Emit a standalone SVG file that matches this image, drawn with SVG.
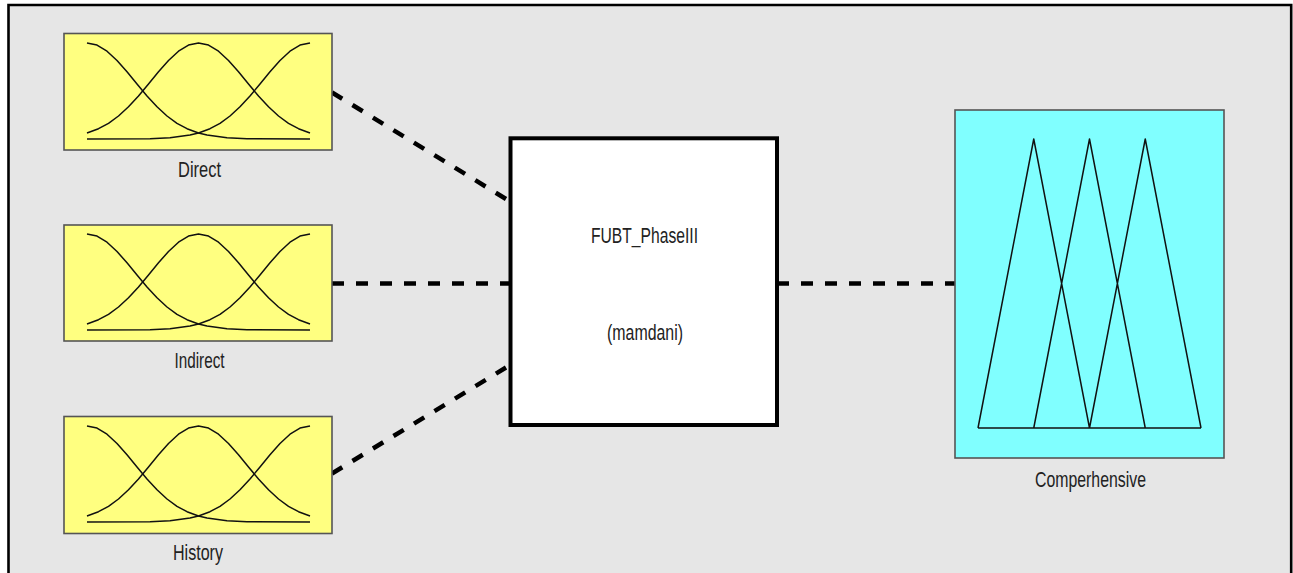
<svg xmlns="http://www.w3.org/2000/svg" xmlns:xlink="http://www.w3.org/1999/xlink" width="1293" height="573" viewBox="0 0 1293 573">
<style>
.in{fill:#ffff80;stroke:#555;stroke-width:1.6}
.out{fill:#80ffff;stroke:#555;stroke-width:1.6}
.mf{fill:none;stroke:#111;stroke-width:1.5;stroke-linejoin:round}
.lbl{font-family:"Liberation Sans",Arial,sans-serif;font-size:22.5px;fill:#222}
.conn{stroke:#000;stroke-width:4.5;stroke-dasharray:12 12;fill:none}
</style>
<defs>
<g id="gauss">
<path class="mf" d="M23,9 L33,11.1 L43,17.2 L53,26.5 L63,37.8 L73,50 L83,62 L93,72.8 L103,82 L113,89.3 L123,94.7 L134.5,99 L143,101.1 L163,103.8 L183,104.7 L246,105"/>
<path class="mf" d="M246,9 L236,11.1 L226,17.2 L216,26.5 L206,37.8 L196,50 L186,62 L176,72.8 L166,82 L156,89.3 L146,94.7 L134.5,99 L126,101.1 L106,103.8 L86,104.7 L23,105"/>
<path class="mf" d="M23,99 L34.5,94.7 L44.5,89.3 L54.5,82 L64.5,72.8 L74.5,62 L84.5,50 L94.5,37.8 L104.5,26.5 L114.5,17.2 L124.5,11.1 L134.5,9 L144.5,11.1 L154.5,17.2 L164.5,26.5 L174.5,37.8 L184.5,50 L194.5,62 L204.5,72.8 L214.5,82 L224.5,89.3 L234.5,94.7 L246,99"/>
</g>
</defs>
<rect x="0" y="0" width="1293" height="573" fill="#ffffff"/>
<rect x="8" y="5" width="1283" height="568" fill="#e6e6e6"/>
<path d="M8.5,573 V5 H1291.2 V573" fill="none" stroke="#000" stroke-width="2.6"/>

<g id="connectors">
<line class="conn" x1="332" y1="92.5" x2="506" y2="199"/>
<line class="conn" x1="332" y1="283.5" x2="510" y2="283.5"/>
<line class="conn" x1="332" y1="473.5" x2="506" y2="367.5"/>
<line class="conn" x1="777" y1="283.5" x2="955" y2="283.5"/>
</g>

<g id="direct">
<rect class="in" x="64" y="33.5" width="268" height="116.5"/>
<use xlink:href="#gauss" x="64" y="34"/>
<text class="lbl" x="178" y="177" textLength="43" lengthAdjust="spacingAndGlyphs">Direct</text>
</g>
<g id="indirect">
<rect class="in" x="64" y="225" width="268" height="116"/>
<use xlink:href="#gauss" x="64" y="225"/>
<text class="lbl" x="174.5" y="367.5" textLength="50" lengthAdjust="spacingAndGlyphs">Indirect</text>
</g>
<g id="history">
<rect class="in" x="64" y="416.5" width="268" height="117"/>
<use xlink:href="#gauss" x="64" y="417"/>
<text class="lbl" x="173" y="560" textLength="50" lengthAdjust="spacingAndGlyphs">History</text>
</g>

<g id="fis">
<rect x="510.5" y="138.3" width="266.5" height="286.7" fill="#fff" stroke="#000" stroke-width="4"/>
<text class="lbl" x="591" y="243" textLength="107" lengthAdjust="spacingAndGlyphs">FUBT_PhaseIII</text>
<text class="lbl" x="607" y="340" textLength="76" lengthAdjust="spacingAndGlyphs">(mamdani)</text>
</g>

<g id="comperhensive">
<rect class="out" x="955" y="110" width="269" height="348"/>
<path class="mf" d="M978,428 L1033.75,139 L1089.5,428 M1033.75,428 L1089.5,139 L1145.25,428 M1089.5,428 L1145.25,139 L1201,428 M978,428 H1201"/>
<text class="lbl" x="1035" y="487" textLength="111" lengthAdjust="spacingAndGlyphs">Comperhensive</text>
</g>
</svg>
